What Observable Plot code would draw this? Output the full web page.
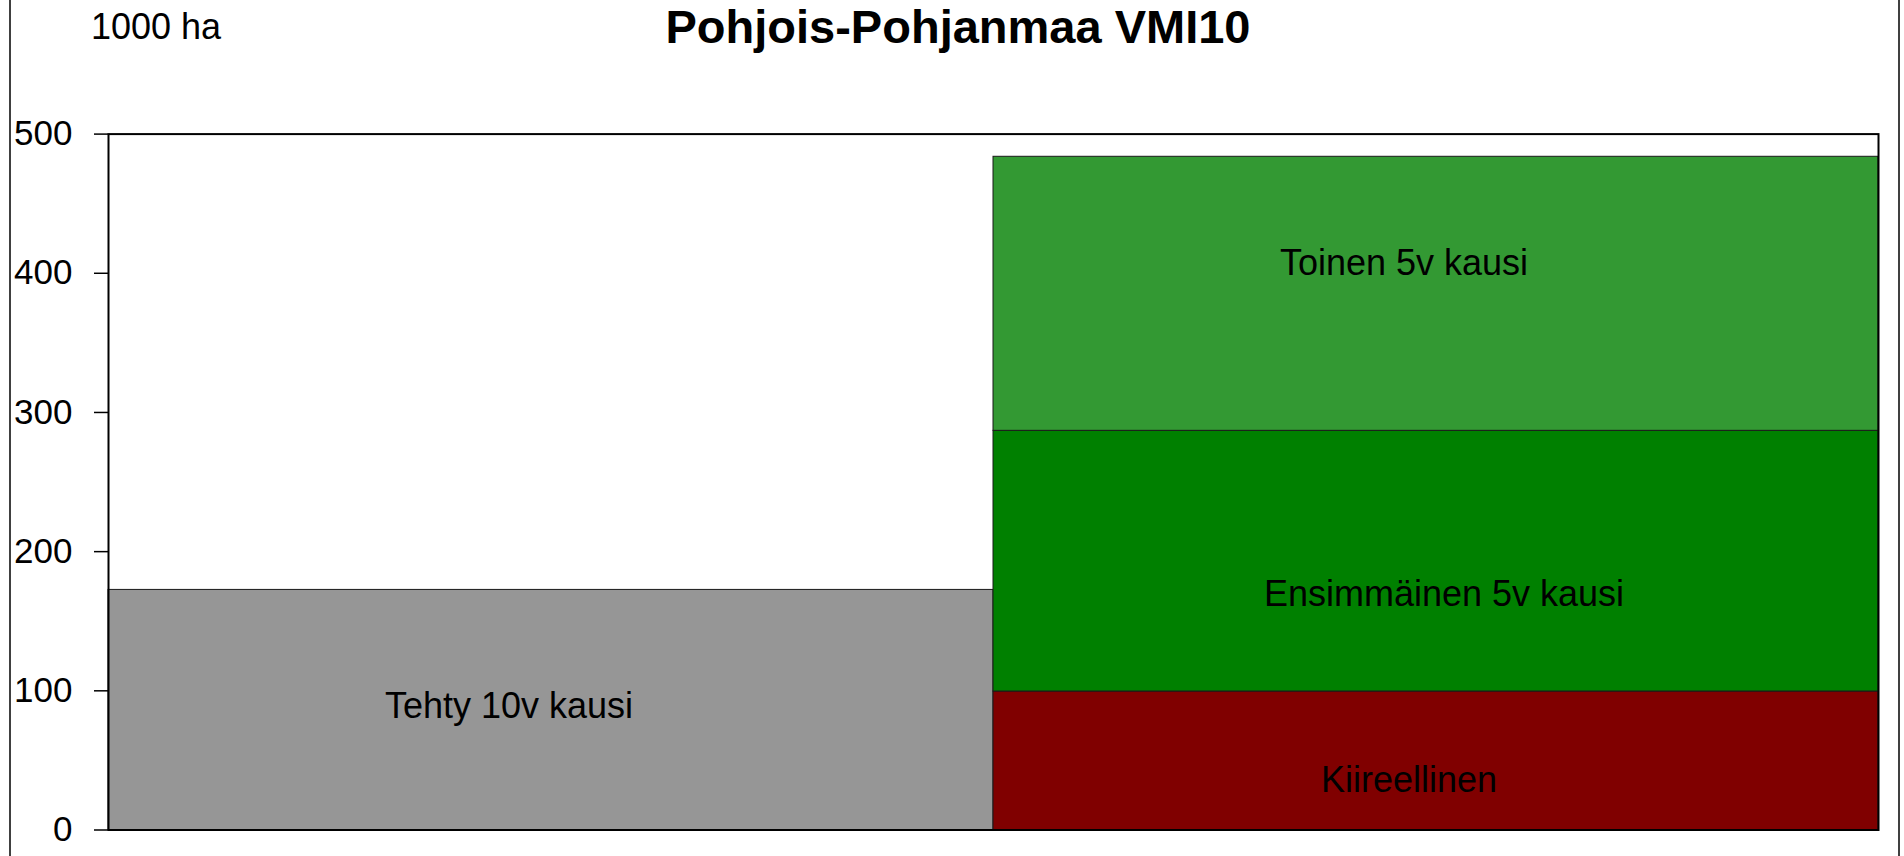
<!DOCTYPE html>
<html>
<head>
<meta charset="utf-8">
<script src="https://cdn.jsdelivr.net/npm/d3@7"></script>
<script src="https://cdn.jsdelivr.net/npm/@observablehq/plot@0.6"></script>
<style>
  html, body { margin: 0; padding: 0; background: #fff; }
  #wrap { position: relative; width: 1904px; height: 856px; overflow: hidden; font-family: "Liberation Sans", Arial, sans-serif; }
  #frame { position: absolute; left: 9px; width: 1887px; top: -10px; height: 880px; border-left: 2px solid #404040; border-right: 2px solid #404040; pointer-events: none; }
  #header { position: relative; height: 60px; }
  #title { position: absolute; left: 0; width: 1904px; text-align: center; top: 3px; font-size: 47px; line-height: 47px; font-weight: bold; color: #000; margin-left: 6px; }
  #unit { position: absolute; left: 91px; top: 9px; font-size: 36px; line-height: 36px; color: #000; }
  svg { display: block; }
</style>
</head>
<body>
<div id="wrap">
  <div id="frame"></div>
  <div id="header">
    <div id="title">Pohjois-Pohjanmaa VMI10</div>
    <div id="unit">1000 ha</div>
  </div>
  <div id="chart"></div>
</div>
<script>
// ---- data ----
const groups = ["Tehty", "Tarve"];
const segments = ["Tehty 10v kausi", "Kiireellinen", "Ensimmäinen 5v kausi", "Toinen 5v kausi"];
const segmentGroups = ["Tehty", "Tarve", "Tarve", "Tarve"];
const values = [172.5, 99.5, 187.3, 196.9];
const yTicks = [0, 100, 200, 300, 400, 500];
const colors = ["#969696", "#800000", "#008000", "#339933"];

const data = segments.map((s, i) => ({segment: s, group: segmentGroups[i], value: values[i]}));

// per-label offsets (styling, in px)
const labelOffsets = {
  "Tehty 10v kausi": [-42, -3],
  "Kiireellinen": [-27, 20],
  "Ensimmäinen 5v kausi": [8, 33],
  "Toinen 5v kausi": [-32, -30]
};

const chart = Plot.plot({
  width: 1904,
  height: 796,
  marginLeft: 108,
  marginRight: 26,
  marginTop: 73.6,
  marginBottom: 26.5,
  style: {fontFamily: "Liberation Sans, Arial, sans-serif", background: "transparent", color: "#000"},
  x: {type: "band", domain: groups, padding: 0, axis: null},
  y: {domain: [0, 500], axis: null},
  color: {domain: segments, range: colors},
  marks: [
    Plot.barY(data, {x: "group", y: "value", fill: "segment", stroke: "#1a1a1a", strokeWidth: 1}),
    ...segments.map(s => Plot.text(data, Plot.stackY({
      x: "group", y: "value", text: d => d.segment === s ? d.segment : "",
      fontSize: 36, fill: "#000", dx: labelOffsets[s][0], dy: labelOffsets[s][1]
    }))),
    Plot.frame({stroke: "#000", strokeWidth: 2}),
    Plot.axisY({ticks: yTicks, label: null, tickSize: 14, tickPadding: 22, fontSize: 35, stroke: "#000", strokeWidth: 1.5, strokeOpacity: 1, fill: "#000"})
  ]
});
document.getElementById("chart").appendChild(chart);
</script>
</body>
</html>
